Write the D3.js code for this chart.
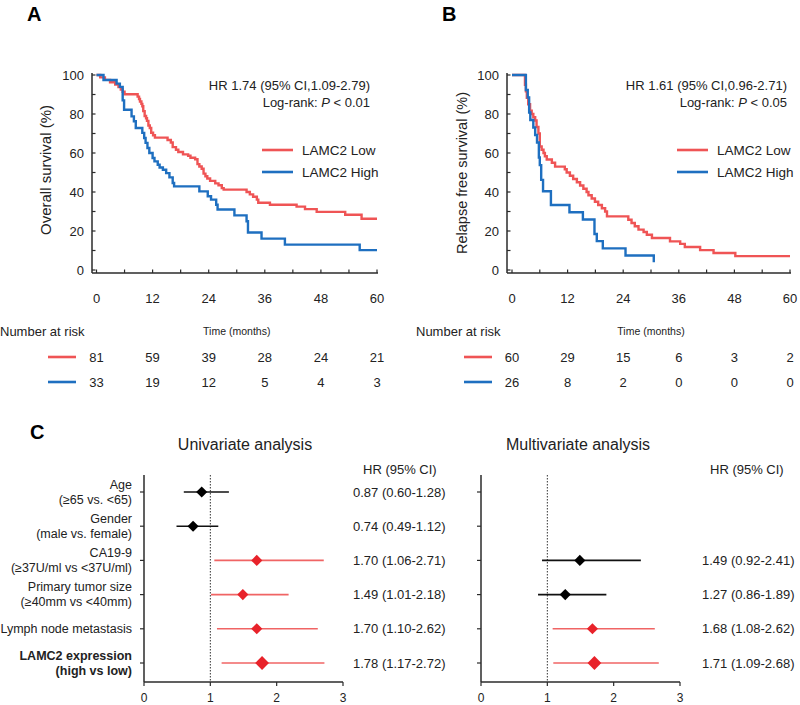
<!DOCTYPE html>
<html><head><meta charset="utf-8">
<script src="https://cdn.jsdelivr.net/npm/d3@7"></script>
<style>
body{margin:0;background:#fff;}
svg{display:block;font-family:Arial,"Liberation Sans",sans-serif;}
</style></head>
<body>
<svg id="chart" width="800" height="705"></svg>
<script>
// ---------- DATA ----------
const timeTicks = [0, 12, 24, 36, 48, 60];
const survTicks = [0, 20, 40, 60, 80, 100];
const groups = ["LAMC2 Low", "LAMC2 High"];

const osLow = [[0,100],[0.8,98.8],[1.8,97.5],[2.9,96.3],[4.0,95.1],[4.7,93.8],[5.2,92.6],[5.6,91.4],[6.0,90.1],[8.8,88.9],[9.1,87.7],[9.3,86.4],[9.6,85.2],[9.8,84.0],[10.0,81.5],[10.3,79.0],[10.6,77.8],[10.8,76.5],[11.1,74.1],[11.4,72.8],[11.7,70.4],[12.1,69.1],[12.5,67.9],[15.2,66.7],[15.9,65.4],[16.3,63.0],[17.0,61.7],[17.5,60.5],[18.5,59.3],[19.6,58.6],[20.1,57.6],[21.1,56.8],[21.6,54.3],[22.0,53.1],[22.5,51.9],[22.9,49.4],[23.3,48.1],[23.7,46.9],[24.3,45.7],[25.4,44.4],[26.1,43.5],[26.8,42.0],[27.2,41.2],[32.1,40.0],[32.8,38.8],[33.5,37.6],[34.3,36.1],[34.6,34.5],[37.1,33.5],[42.8,32.5],[44.6,31.2],[47.1,29.8],[53.2,28.3],[56.7,26.3],[60,26.3]];
const osHigh = [[0,100],[1.5,97.4],[4.3,95.6],[5.0,93.9],[5.6,87.0],[5.9,82.2],[7.5,78.8],[8.0,76.3],[8.4,72.8],[9.8,70.3],[10.2,67.7],[10.5,65.2],[10.9,62.6],[11.3,60.0],[12.0,57.4],[12.4,55.7],[13.1,54.0],[13.5,52.6],[14.2,51.4],[14.9,49.7],[15.6,47.5],[16.3,44.6],[16.6,42.9],[22.0,40.3],[23.8,37.8],[24.5,36.1],[25.6,33.5],[25.9,31.0],[29.5,28.0],[32.1,25.0],[32.4,19.2],[35.3,16.1],[40.3,13.0],[56.3,10.2],[60,10.2]];
const rfsLow = [[0,100],[2.8,95.0],[3.0,91.7],[3.2,88.3],[3.5,85.0],[3.9,81.7],[4.25,80.0],[4.6,78.3],[5.0,76.7],[5.3,73.3],[5.7,70.0],[6.0,63.3],[6.4,61.7],[6.8,60.0],[7.1,58.3],[7.5,56.7],[8.6,55.0],[9.3,53.0],[11.4,51.7],[11.8,50.0],[12.5,48.3],[13.2,46.7],[14.0,45.0],[14.7,43.3],[15.4,41.7],[16.1,40.0],[16.5,38.3],[17.2,36.7],[17.9,35.0],[18.6,33.3],[19.4,31.7],[20.1,30.0],[20.5,27.5],[25.1,25.8],[25.8,24.1],[26.5,22.4],[27.3,20.7],[28.4,19.5],[29.1,18.1],[30.2,16.4],[34.1,14.7],[36.3,13.4],[37.3,11.8],[40.6,10.2],[43.5,8.7],[48.2,7.1],[60,7.1]];
const rfsHigh = [[0,100],[3.0,92.3],[3.4,88.5],[3.7,80.8],[3.95,76.9],[4.6,73.1],[5.0,69.2],[5.4,65.4],[5.8,57.7],[6.0,53.8],[6.3,46.2],[6.7,40.4],[8.4,33.3],[12.4,29.6],[15.3,25.9],[17.8,18.5],[18.3,14.8],[19.6,11.1],[24.5,7.4],[30.6,4.0]];

const osRiskLow = [81, 59, 39, 28, 24, 21];
const osRiskHigh = [33, 19, 12, 5, 4, 3];
const rfsRiskLow = [60, 29, 15, 6, 3, 2];
const rfsRiskHigh = [26, 8, 2, 0, 0, 0];

const factorLines = [["Age","(\u226565 vs. <65)"],["Gender","(male vs. female)"],["CA19-9","(\u226537U/ml vs <37U/ml)"],["Primary tumor size","(\u226540mm vs <40mm)"],["Lymph node metastasis"],["LAMC2 expression","(high vs low)"]];
const uniHR   = [0.87, 0.74, 1.70, 1.49, 1.70, 1.78];
const uniLow  = [0.60, 0.49, 1.06, 1.01, 1.10, 1.17];
const uniHigh = [1.28, 1.12, 2.71, 2.18, 2.62, 2.72];
const multiHR   = [null, null, 1.49, 1.27, 1.68, 1.71];
const multiLow  = [null, null, 0.92, 0.86, 1.08, 1.09];
const multiHigh = [null, null, 2.41, 1.89, 2.62, 2.68];
const hrTicks = [0, 1, 2, 3];

// ---------- STYLE ----------
const RED = "#ef5455", BLUE = "#1e6fc0", AXIS = "#2b2b2b";
const FRED = "#e8222a", FRED_LINE = "#f06464";
const svg = d3.select("#chart");
svg.append("rect").attr("width",800).attr("height",705).attr("fill","#fff");

// ---------- KM PANELS ----------
function kmPanel(o){
  const g = svg.append("g");
  const x = d3.scaleLinear().domain([0,60]).range([o.x0, o.x1]);
  const y = d3.scaleLinear().domain([0,100]).range([270, 75]);
  // axes
  g.append("line").attr("x1",o.ax).attr("x2",o.ax).attr("y1",73).attr("y2",273).attr("stroke",AXIS).attr("stroke-width",1.5);
  g.append("line").attr("x1",o.ax).attr("x2",x(60)+1).attr("y1",273).attr("y2",273).attr("stroke",AXIS).attr("stroke-width",1.5);
  d3.range(0,101,10).forEach(v=>{
    g.append("line").attr("x1",o.ax).attr("x2",o.ax+3.5).attr("y1",y(v)).attr("y2",y(v)).attr("stroke",AXIS).attr("stroke-width",1.2);
  });
  d3.range(0,61,6).forEach(v=>{
    g.append("line").attr("x1",x(v)).attr("x2",x(v)).attr("y1",273).attr("y2",269.5).attr("stroke",AXIS).attr("stroke-width",1.2);
  });
  survTicks.forEach(v=>{
    g.append("text").attr("x",o.ax-8).attr("y",y(v)).attr("dy","0.35em").attr("text-anchor","end").attr("font-size",13).attr("fill","#222").text(v);
  });
  timeTicks.forEach(v=>{
    g.append("text").attr("x",x(v)).attr("y",298).attr("dy","0.35em").attr("text-anchor","middle").attr("font-size",13).attr("fill","#222").text(v);
  });
  g.append("text").attr("transform",`translate(${o.ytx},${o.yty}) rotate(-90)`).attr("text-anchor","middle").attr("dy","0.35em").attr("font-size",o.yfs).attr("fill","#222").text(o.ytitle);
  // curves
  const line = d3.line().x(d=>x(d[0])).y(d=>y(d[1])).curve(d3.curveStepAfter);
  g.append("path").datum(o.low).attr("d",line).attr("fill","none").attr("stroke",RED).attr("stroke-width",2.4);
  g.append("path").datum(o.high).attr("d",line).attr("fill","none").attr("stroke",BLUE).attr("stroke-width",2.4);
  // annotations
  g.append("text").attr("x",o.hrx).attr("y",85).attr("dy","0.35em").attr("text-anchor","end").attr("font-size",13).attr("fill","#222").text(o.hr);
  const t2 = g.append("text").attr("x",o.hrx).attr("y",102).attr("dy","0.35em").attr("text-anchor","end").attr("font-size",13).attr("fill","#222");
  t2.append("tspan").text("Log-rank: ");
  t2.append("tspan").attr("font-style","italic").text("P");
  t2.append("tspan").text(o.p);
  // legend
  [[RED,150,groups[0]],[BLUE,172,groups[1]]].forEach(([c,yy,t])=>{
    g.append("line").attr("x1",o.lgx).attr("x2",o.lgx+31).attr("y1",yy).attr("y2",yy).attr("stroke",c).attr("stroke-width",2.6);
    g.append("text").attr("x",o.lgx+40).attr("y",yy).attr("dy","0.35em").attr("font-size",13.5).attr("fill","#222").text(t);
  });
  // risk table
  g.append("text").attr("x",o.nrx).attr("y",331).attr("dy","0.35em").attr("font-size",13).attr("fill","#222").text("Number at risk");
  g.append("text").attr("x",(x(0)+x(60))/2).attr("y",331).attr("dy","0.35em").attr("text-anchor","middle").attr("font-size",10.5).attr("fill","#222").text("Time (months)");
  [[RED,357,o.rl],[BLUE,382,o.rh]].forEach(([c,yy,arr])=>{
    g.append("line").attr("x1",o.dash).attr("x2",o.dash+28).attr("y1",yy).attr("y2",yy).attr("stroke",c).attr("stroke-width",2.6);
    arr.forEach((n,i)=>{
      g.append("text").attr("x",x(timeTicks[i])).attr("y",yy).attr("dy","0.35em").attr("text-anchor","middle").attr("font-size",13).attr("fill","#222").text(n);
    });
  });
  g.append("text").attr("x",o.lx).attr("y",14).attr("dy","0.35em").attr("font-size",20).attr("font-weight","bold").attr("fill","#000").text(o.label);
}

kmPanel({label:"A",lx:27,x0:96.5,x1:377,ax:92,ytx:46,yty:170,yfs:15,ytitle:"Overall survival (%)",
  low:osLow,high:osHigh,hr:"HR 1.74 (95% CI,1.09-2.79)",p:" < 0.01",hrx:370,lgx:262,nrx:0,dash:48,rl:osRiskLow,rh:osRiskHigh});
kmPanel({label:"B",lx:442,x0:512,x1:790,ax:507,ytx:462,yty:173,yfs:14.5,ytitle:"Relapse free survival (%)",
  low:rfsLow,high:rfsHigh,hr:"HR 1.61 (95% CI,0.96-2.71)",p:" < 0.05",hrx:787,lgx:677,nrx:416,dash:464,rl:rfsRiskLow,rh:rfsRiskHigh});

// ---------- FOREST ----------
svg.append("text").attr("x",30).attr("y",432).attr("dy","0.35em").attr("font-size",20).attr("font-weight","bold").attr("fill","#000").text("C");
const rowY = d3.scalePoint().domain(d3.range(factorLines.length)).range([492, 663]);

function forest(o){
  const g = svg.append("g");
  const x = d3.scaleLinear().domain([0,3]).range([o.ax, o.ax+199]);
  g.append("text").attr("x",o.tx).attr("y",444).attr("dy","0.35em").attr("text-anchor","middle").attr("font-size",16).attr("fill","#222").text(o.title);
  g.append("line").attr("x1",o.ax).attr("x2",o.ax).attr("y1",475).attr("y2",682).attr("stroke",AXIS).attr("stroke-width",1.5);
  g.append("line").attr("x1",o.ax).attr("x2",x(3)).attr("y1",682).attr("y2",682).attr("stroke",AXIS).attr("stroke-width",1.5);
  hrTicks.forEach(v=>{
    g.append("line").attr("x1",x(v)).attr("x2",x(v)).attr("y1",682).attr("y2",686).attr("stroke",AXIS).attr("stroke-width",1.2);
    g.append("text").attr("x",x(v)).attr("y",698).attr("dy","0.35em").attr("text-anchor","middle").attr("font-size",12).attr("fill","#222").text(v);
  });
  factorLines.forEach((f,i)=>{
    g.append("line").attr("x1",o.ax-4).attr("x2",o.ax).attr("y1",rowY(i)).attr("y2",rowY(i)).attr("stroke",AXIS).attr("stroke-width",1.2);
  });
  g.append("line").attr("x1",x(1)).attr("x2",x(1)).attr("y1",475).attr("y2",682).attr("stroke","#333").attr("stroke-width",1).attr("stroke-dasharray","1.5,1.5");
  g.append("text").attr("x",o.hx).attr("y",469).attr("dy","0.35em").attr("font-size",13).attr("fill","#222").text("HR (95% CI)");
  o.hr.forEach((h,i)=>{
    if(h==null) return;
    const sig = o.lo[i] > 1;
    const yy = rowY(i);
    g.append("line").attr("x1",x(o.lo[i])).attr("x2",x(o.hi[i])).attr("y1",yy).attr("y2",yy).attr("stroke",sig?FRED_LINE:"#111").attr("stroke-width",1.6);
    const big = i===5;
    g.append("path").attr("d",d3.symbol(d3.symbolSquare, big?95:62)())
      .attr("transform",`translate(${x(h)},${yy}) rotate(45)`).attr("fill",sig?FRED:"#000");
    g.append("text").attr("x",o.vx).attr("y",yy).attr("dy","0.35em").attr("font-size",13).attr("fill","#222")
      .text(`${h.toFixed(2)} (${o.lo[i].toFixed(2)}-${o.hi[i].toFixed(2)})`);
  });
}
forest({ax:144,tx:245,title:"Univariate analysis",hx:363,vx:353,hr:uniHR,lo:uniLow,hi:uniHigh});
forest({ax:481,tx:578,title:"Multivariate analysis",hx:710,vx:702,hr:multiHR,lo:multiLow,hi:multiHigh});

// factor labels
factorLines.forEach((lines,i)=>{
  const yy = rowY(i);
  const bold = i===5;
  lines.forEach((t,j)=>{
    const off = lines.length===1 ? 0 : (j===0 ? -7.5 : 7.5);
    svg.append("text").attr("x",132).attr("y",yy+off).attr("dy","0.35em").attr("text-anchor","end")
      .attr("font-size",12.5).attr("font-weight",bold?"bold":"normal").attr("fill","#222").text(t);
  });
});
</script>
</body></html>
